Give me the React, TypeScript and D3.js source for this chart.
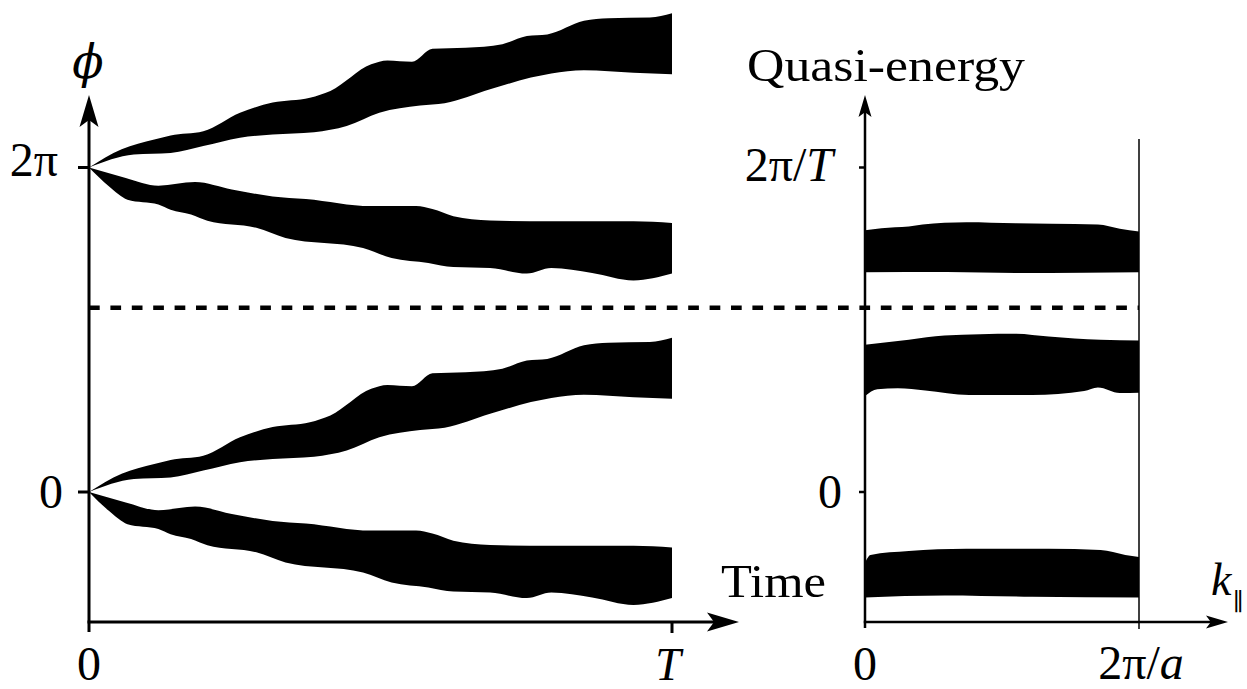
import React from "react";
import * as d3 from "d3";

// left panel: phase windings, [t/T, phi/2pi offset from start]
const risingTop: [number, number][] = [
  [0, 0], [0.056, 0.056], [0.112, 0.086], [0.14, 0.099], [0.196, 0.112],
  [0.259, 0.169], [0.315, 0.2], [0.379, 0.215], [0.414, 0.236], [0.484, 0.318],
  [0.512, 0.33], [0.554, 0.326], [0.589, 0.366], [0.646, 0.369], [0.709, 0.38],
  [0.751, 0.405], [0.786, 0.41], [0.849, 0.452], [0.891, 0.46], [0.962, 0.462],
  [1, 0.475],
];
const risingBottom: [number, number][] = [
  [0, 0], [0.077, 0.04], [0.14, 0.045], [0.196, 0.066], [0.259, 0.092],
  [0.315, 0.102], [0.386, 0.109], [0.442, 0.128], [0.498, 0.169], [0.568, 0.191],
  [0.61, 0.198], [0.688, 0.241], [0.758, 0.277], [0.793, 0.29], [0.849, 0.3],
  [0.934, 0.292], [1, 0.287],
];
const fallingTop: [number, number][] = [
  [0, 0], [0.063, -0.032], [0.119, -0.056], [0.182, -0.045], [0.245, -0.068],
  [0.315, -0.089], [0.372, -0.097], [0.484, -0.119], [0.561, -0.119],
  [0.589, -0.128], [0.625, -0.15], [0.688, -0.163], [0.793, -0.166],
  [0.934, -0.166], [1, -0.171],
];
const fallingBottom: [number, number][] = [
  [0, 0], [0.034, -0.058], [0.066, -0.099], [0.119, -0.114], [0.14, -0.13],
  [0.175, -0.145], [0.203, -0.164], [0.287, -0.186], [0.337, -0.217],
  [0.47, -0.248], [0.519, -0.279], [0.582, -0.294], [0.625, -0.307],
  [0.688, -0.31], [0.751, -0.327], [0.793, -0.31], [0.863, -0.325],
  [0.934, -0.348], [1, -0.327],
];
const startPhases = [0, 1]; // 0 and 2pi

// right panel: quasi-energy bands, [k a/2pi, E T/2pi]
const band1Top: [number, number][] = [
  [0, 0.807], [0.06, 0.813], [0.16, 0.818], [0.21, 0.824], [0.37, 0.831],
  [0.55, 0.828], [0.68, 0.827], [0.85, 0.824], [0.93, 0.811], [1, 0.803],
];
const band1Bottom: [number, number][] = [
  [0, 0.677], [0.3, 0.678], [0.55, 0.675], [0.8, 0.676], [1, 0.677],
];
const band2Top: [number, number][] = [
  [0, 0.454], [0.16, 0.469], [0.29, 0.482], [0.55, 0.488], [0.67, 0.479],
  [0.86, 0.469], [1, 0.467],
];
const band2Bottom: [number, number][] = [
  [0, 0.296], [0.045, 0.317], [0.12, 0.32], [0.22, 0.313], [0.38, 0.299],
  [0.61, 0.299], [0.8, 0.311], [0.85, 0.322], [0.93, 0.305], [1, 0.306],
];
const band3Top: [number, number][] = [
  [0, -0.218], [0.02, -0.194], [0.16, -0.182], [0.37, -0.175], [0.67, -0.175],
  [0.86, -0.179], [0.95, -0.194], [1, -0.2],
];
const band3Bottom: [number, number][] = [
  [0, -0.325], [0.29, -0.319], [0.61, -0.323], [1, -0.325],
];

const dashedLevel = 0.568;
const leftYTicks = [{ v: 1, label: "2π" }, { v: 0, label: "0" }];
const rightYTicks = [{ v: 1, label: "2π/T" }, { v: 0, label: "0" }];

const W = 1247;
const H = 689;
const font = "'Liberation Serif', 'DejaVu Serif', serif";

const xL = d3.scaleLinear().domain([0, 1]).range([89, 672]);
const xR = d3.scaleLinear().domain([0, 1]).range([865, 1139]);
const y = d3.scaleLinear().domain([0, 1]).range([492, 167.5]);

function bandPath(
  top: [number, number][],
  bottom: [number, number][],
  xs: d3.ScaleLinear<number, number>,
  offset: number
) {
  const line = d3
    .line<[number, number]>()
    .x((d) => xs(d[0]))
    .y((d) => y(d[1] + offset))
    .curve(d3.curveMonotoneX);
  const a = line(top) || "";
  const b = (line(bottom.slice().reverse()) || "").replace(/^M/, "L");
  return a + b + "Z";
}

// latex-ish arrow head, tip at (x,y), dir "up" or "right"
function arrow(x: number, yy: number, dir: string, len: number, hw: number) {
  if (dir === "up") {
    return `M${x},${yy} L${x - hw},${yy + len} L${x},${yy + len * 0.78} L${x + hw},${yy + len} Z`;
  }
  return `M${x},${yy} L${x - len},${yy - hw} L${x - len * 0.78},${yy} L${x - len},${yy + hw} Z`;
}

export default function App() {
  const axisY = 622;
  return (
    <svg
      width={W}
      height={H}
      style={{ position: "fixed", left: 0, top: 0, background: "#fff" }}
      fontFamily={font}
    >
      {/* left bands */}
      {startPhases.map((p) => (
        <g key={p}>
          <path d={bandPath(risingTop, risingBottom, xL, p)} fill="#000" />
          <path d={bandPath(fallingTop, fallingBottom, xL, p)} fill="#000" />
        </g>
      ))}
      {/* right bands */}
      <path d={bandPath(band1Top, band1Bottom, xR, 0)} fill="#000" />
      <path d={bandPath(band2Top, band2Bottom, xR, 0)} fill="#000" />
      <path d={bandPath(band3Top, band3Bottom, xR, 0)} fill="#000" />

      {/* dashed divider */}
      <line
        x1={xL(0)}
        x2={xR(1)}
        y1={y(dashedLevel)}
        y2={y(dashedLevel)}
        stroke="#000"
        strokeWidth={4.5}
        strokeDasharray="10.7 10.7"
      />

      {/* left axes */}
      <line x1={xL(0)} x2={xL(0)} y1={632} y2={110} stroke="#000" strokeWidth={3} />
      <path d={arrow(xL(0), 95, "up", 32, 9.5)} fill="#000" />
      <line x1={xL(0) - 1.5} x2={722} y1={axisY} y2={axisY} stroke="#000" strokeWidth={3} />
      <path d={arrow(739, axisY, "right", 32, 9.5)} fill="#000" />
      {leftYTicks.map((t) => (
        <line key={t.label} x1={78} x2={xL(0)} y1={y(t.v)} y2={y(t.v)} stroke="#000" strokeWidth={3} />
      ))}
      <line x1={xL(1)} x2={xL(1)} y1={axisY} y2={633} stroke="#000" strokeWidth={3} />
      <text x={58} y={176} fontSize={48} textAnchor="end">2π</text>
      <text x={63} y={508} fontSize={48} textAnchor="end">0</text>
      <text x={xL(0)} y={680} fontSize={48} textAnchor="middle">0</text>
      <text x={xL(1) - 4} y={680} fontSize={46} textAnchor="middle" fontStyle="italic">T</text>
      <text x={88} y={78} fontSize={46} textAnchor="middle" fontStyle="italic" fontFamily="'DejaVu Serif', serif">ϕ</text>

      {/* right axes */}
      <line x1={xR(0)} x2={xR(0)} y1={628} y2={105} stroke="#000" strokeWidth={2.5} />
      <path d={arrow(xR(0), 95, "up", 22, 6.5)} fill="#000" />
      <line x1={xR(0) - 1.25} x2={1215} y1={axisY} y2={axisY} stroke="#000" strokeWidth={2.5} />
      <path d={arrow(1228, axisY, "right", 22, 6.5)} fill="#000" />
      <line x1={xR(1)} x2={xR(1)} y1={139} y2={629} stroke="#000" strokeWidth={1.5} />
      {rightYTicks.map((t) => (
        <line key={t.label} x1={859} x2={xR(0)} y1={y(t.v)} y2={y(t.v)} stroke="#000" strokeWidth={2.5} />
      ))}
      <text x={833} y={181} fontSize={48} textAnchor="end">
        2π/<tspan fontStyle="italic">T</tspan>
      </text>
      <text x={842} y={508} fontSize={48} textAnchor="end">0</text>
      <text x={xR(0)} y={680} fontSize={48} textAnchor="middle">0</text>
      <text x={1141} y={679} fontSize={48} textAnchor="middle">
        2π/<tspan fontStyle="italic">a</tspan>
      </text>
      <text x={747} y={81} fontSize={47} textLength={278} lengthAdjust="spacingAndGlyphs">Quasi-energy</text>
      <text x={721} y={597} fontSize={47} textLength={105} lengthAdjust="spacingAndGlyphs">Time</text>
      <text x={1211} y={595} fontSize={46} fontStyle="italic">k</text>
      <text x={1233} y={610} fontSize={24}>∥</text>
    </svg>
  );
}
